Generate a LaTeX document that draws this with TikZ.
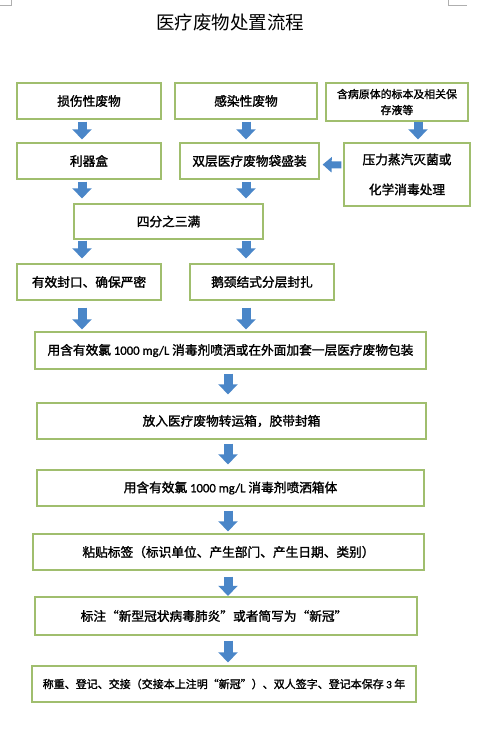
\documentclass[tikz,border=0pt]{standalone}
\usepackage{fontspec}
\setmainfont{Noto Sans CJK SC}[AutoFakeBold=1.6]
\newfontfamily\lat{Carlito}[AutoFakeBold=1.2]
\usetikzlibrary{arrows.meta}
\definecolor{boxgreen}{RGB}{160,190,110}
\definecolor{arrblue}{RGB}{74,134,200}
\definecolor{markgray}{RGB}{175,175,175}
\begin{document}
\begin{tikzpicture}[x=1pt,y=-1pt,
  box/.style={draw=boxgreen,line width=1.3pt,inner sep=0pt,align=center,
    font=\bfseries\fontsize{12.7}{15}\selectfont},
  fat/.style={draw=arrblue,line width=9pt,-{Triangle[width=19pt,length=10pt]}},
  fatl/.style={draw=arrblue,line width=7pt,-{Triangle[width=15pt,length=9pt]}},
  cornermark/.style={draw=markgray,line width=0.7pt}]
\useasboundingbox (0,0) rectangle (483,729);
% page corner marks
\draw[cornermark] (0,5) -- (11.5,5) -- (11.5,0);
\draw[cornermark] (448,0) -- (448,5) -- (467,5);
% column positions
\coordinate (xL) at (82,0);
\coordinate (xM) at (246,0);
\coordinate (xR) at (418,0);
\coordinate (xC) at (228,0);
% title
\node (title) at (230,22) {\fontsize{18.5}{20}\selectfont 医疗废物处置流程};
% row 1
\node[box,minimum width=144pt,minimum height=36pt] (A) at (89,101) {损伤性废物};
\node[box,minimum width=142pt,minimum height=36pt] (B) at (246,101) {感染性废物};
\node[box,minimum width=142pt,minimum height=38pt,font=\bfseries\fontsize{10.9}{16}\selectfont] (C) at (397,102) {含病原体的标本及相关保\\存液等};
% row 2
\node[box,minimum width=144pt,minimum height=36pt] (A2) at (89,161) {利器盒};
\node[box,minimum width=139pt,minimum height=36pt] (B2) at (249.5,161) {双层医疗废物袋盛装};
\node[box,minimum width=126pt,minimum height=63pt,font=\bfseries\fontsize{12.7}{30}\selectfont] (C2) at (407,174.5) {压力蒸汽灭菌或\\化学消毒处理};
% row 3
\node[box,minimum width=189pt,minimum height=35pt] (D) at (168.5,221.5) {四分之三满};
% row 4
\node[box,minimum width=144pt,minimum height=36pt] (E1) at (89,282) {有效封口、确保严密};
\node[box,minimum width=144pt,minimum height=36pt] (E2) at (262,282) {鹅颈结式分层封扎};
% wide boxes
\node[box,minimum width=391pt,minimum height=37pt] (F1) at (230.5,350.5) {用含有效氯 {\lat 1000 mg/L} 消毒剂喷洒或在外面加套一层医疗废物包装};
\node[box,minimum width=389pt,minimum height=36pt] (F2) at (231.5,421) {放入医疗废物转运箱，胶带封箱};
\node[box,minimum width=387pt,minimum height=36pt] (F3) at (230.5,488) {用含有效氯 {\lat 1000 mg/L} 消毒剂喷洒箱体};
\node[box,minimum width=391pt,minimum height=36pt] (F4) at (228.5,552) {粘贴标签（标识单位、产生部门、产生日期、类别）};
\node[box,minimum width=382pt,minimum height=38pt] (F5) at (226,616) {标注“新型冠状病毒肺炎”或者简写为“新冠”\hspace*{24pt}};
\node[box,minimum width=384pt,minimum height=36pt,font=\bfseries\fontsize{11}{13}\selectfont] (F6) at (224,684) {称重、登记、交接（交接本上注明“新冠”）、双人签字、登记本保存 {\lat 3} 年};
% arrows
\draw[fat,shorten <=2pt,shorten >=3pt] (A.south -| xL) -- (A2.north -| xL);
\draw[fat,shorten <=2pt,shorten >=3pt] (B.south -| xM) -- (B2.north -| xM);
\draw[fat,shorten <=0pt,shorten >=3pt] (C.south -| xR) -- (C2.north -| xR);
\draw[fatl,shorten <=2pt,shorten >=3pt] ([yshift=9.5pt]C2.west) -- ([yshift=-3.5pt]B2.east);
\draw[fat,shorten <=2pt,shorten >=5pt] (A2.south -| xL) -- (D.north -| xL);
\draw[fat,shorten <=2pt,shorten >=5pt] (B2.south -| xM) -- (D.north -| xM);
\draw[fat,shorten <=1pt,shorten >=5pt] (D.south -| xL) -- (E1.north -| xL);
\draw[fat,shorten <=1pt,shorten >=5pt] (D.south -| xM) -- (E2.north -| xM);
\draw[fat,shorten <=7pt,shorten >=2pt] (E1.south -| xL) -- (F1.north -| xL);
\draw[fat,shorten <=7pt,shorten >=2pt] (E2.south -| xM) -- (F1.north -| xM);
\draw[fat,shorten <=4pt,shorten >=8pt] (F1.south -| xC) -- (F2.north -| xC);
\draw[fat,shorten <=4pt,shorten >=5pt] (F2.south -| xC) -- (F3.north -| xC);
\draw[fat,shorten <=4pt,shorten >=2pt] (F3.south -| xC) -- (F4.north -| xC);
\draw[fat,shorten <=6pt,shorten >=0.5pt] (F4.south -| xC) -- (F5.north -| xC);
\draw[fat,shorten <=5pt,shorten >=3pt] (F5.south -| xC) -- (F6.north -| xC);
\end{tikzpicture}
\end{document}
